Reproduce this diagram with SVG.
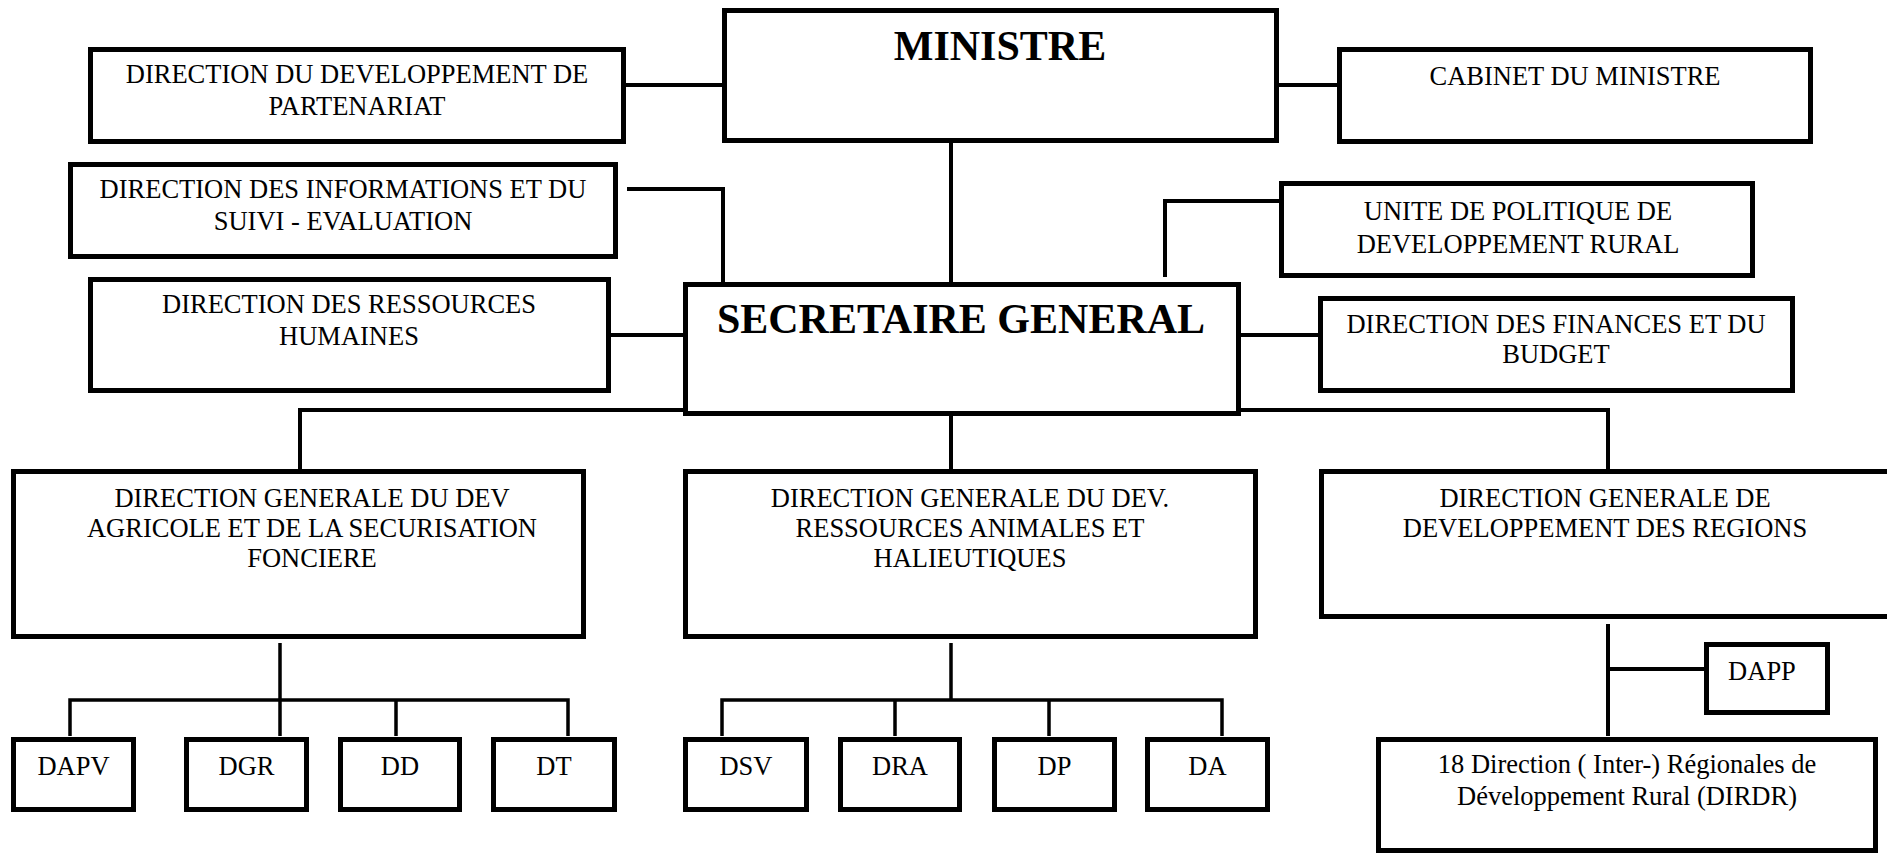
<svg xmlns="http://www.w3.org/2000/svg" width="1887" height="854" viewBox="0 0 1887 854">
<style>
.b{fill:#fff;stroke:#000;stroke-width:5}
.c{fill:none;stroke:#000;stroke-width:4}
.c2{fill:none;stroke:#000;stroke-width:3.5}
text{font-family:"Liberation Serif","Times New Roman",serif;font-size:26.5px;text-anchor:middle;fill:#000}
.t{font-weight:bold;font-size:42px}
</style>
<rect width="1887" height="854" fill="#fff"/>
<g id="connectors">
<path class="c" d="M626 85H722"/>
<path class="c" d="M1279 85H1337"/>
<path class="c" d="M951 143V282"/>
<path class="c" d="M627 189H723V284"/>
<path class="c" d="M1279 201H1165V277"/>
<path class="c" d="M609 335H683"/>
<path class="c" d="M1241 335H1318"/>
<path class="c" d="M683 410H300V469"/>
<path class="c" d="M951 416V469"/>
<path class="c" d="M1241 410H1608V469"/>
<path class="c2" d="M280 643V736M70 736V700H568V736M396 700V736"/>
<path class="c2" d="M951 643V700M722 736V700H1222V736M895 700V736M1049 700V736"/>
<path class="c" d="M1608 624V736M1608 669H1704"/>
</g>
<g id="ministre"><rect class="b" x="724.5" y="10.5" width="552" height="130"/><text class="t" x="1000" y="60">MINISTRE</text></g>
<g id="ddp"><rect class="b" x="90.5" y="49.5" width="533" height="92"/><text x="357" y="83">DIRECTION DU DEVELOPPEMENT DE</text><text x="357" y="115">PARTENARIAT</text></g>
<g id="cabinet"><rect class="b" x="1339.5" y="49.5" width="471" height="92"/><text x="1575" y="85">CABINET DU MINISTRE</text></g>
<g id="dise"><rect class="b" x="70.5" y="164.5" width="545" height="92"/><text x="343" y="198">DIRECTION DES INFORMATIONS ET DU</text><text x="343" y="230">SUIVI - EVALUATION</text></g>
<g id="updr"><rect class="b" x="1281.5" y="183.5" width="471" height="92"/><text x="1518" y="220">UNITE DE POLITIQUE DE</text><text x="1518" y="253">DEVELOPPEMENT RURAL</text></g>
<g id="drh"><rect class="b" x="90.5" y="279.5" width="518" height="111"/><text x="349" y="313">DIRECTION DES RESSOURCES</text><text x="349" y="345">HUMAINES</text></g>
<g id="sg"><rect class="b" x="685.5" y="284.5" width="553" height="129"/><text class="t" x="961" y="333">SECRETAIRE GENERAL</text></g>
<g id="dfb"><rect class="b" x="1320.5" y="298.5" width="472" height="92"/><text x="1556" y="333">DIRECTION DES FINANCES ET DU</text><text x="1556" y="363">BUDGET</text></g>
<g id="dgda"><rect class="b" x="13.5" y="471.5" width="570" height="165"/><text x="312" y="507">DIRECTION GENERALE DU DEV</text><text x="312" y="537">AGRICOLE ET DE LA SECURISATION</text><text x="312" y="567">FONCIERE</text></g>
<g id="dgra"><rect class="b" x="685.5" y="471.5" width="570" height="165"/><text x="970" y="507">DIRECTION GENERALE DU DEV.</text><text x="970" y="537">RESSOURCES ANIMALES ET</text><text x="970" y="567">HALIEUTIQUES</text></g>
<g id="dgdr"><rect class="b" x="1321.5" y="471.5" width="571" height="145"/><text x="1605" y="507">DIRECTION GENERALE DE</text><text x="1605" y="537">DEVELOPPEMENT DES REGIONS</text></g>
<g id="dapv"><rect class="b" x="13.5" y="739.5" width="120" height="70"/><text x="73.5" y="775">DAPV</text></g>
<g id="dgr"><rect class="b" x="186.5" y="739.5" width="120" height="70"/><text x="246.5" y="775">DGR</text></g>
<g id="dd"><rect class="b" x="340.5" y="739.5" width="119" height="70"/><text x="400" y="775">DD</text></g>
<g id="dt"><rect class="b" x="493.5" y="739.5" width="121" height="70"/><text x="554" y="775">DT</text></g>
<g id="dsv"><rect class="b" x="685.5" y="739.5" width="121" height="70"/><text x="746" y="775">DSV</text></g>
<g id="dra"><rect class="b" x="840.5" y="739.5" width="119" height="70"/><text x="900" y="775">DRA</text></g>
<g id="dp"><rect class="b" x="994.5" y="739.5" width="120" height="70"/><text x="1054.5" y="775">DP</text></g>
<g id="da"><rect class="b" x="1147.5" y="739.5" width="120" height="70"/><text x="1207.5" y="775">DA</text></g>
<g id="dapp"><rect class="b" x="1706.5" y="644.5" width="121" height="68"/><text x="1762" y="680">DAPP</text></g>
<g id="dirdr"><rect class="b" x="1378.5" y="739.5" width="497" height="111"/><text x="1627" y="773">18 Direction ( Inter-) Régionales de</text><text x="1627" y="805">Développement Rural (DIRDR)</text></g>
</svg>
